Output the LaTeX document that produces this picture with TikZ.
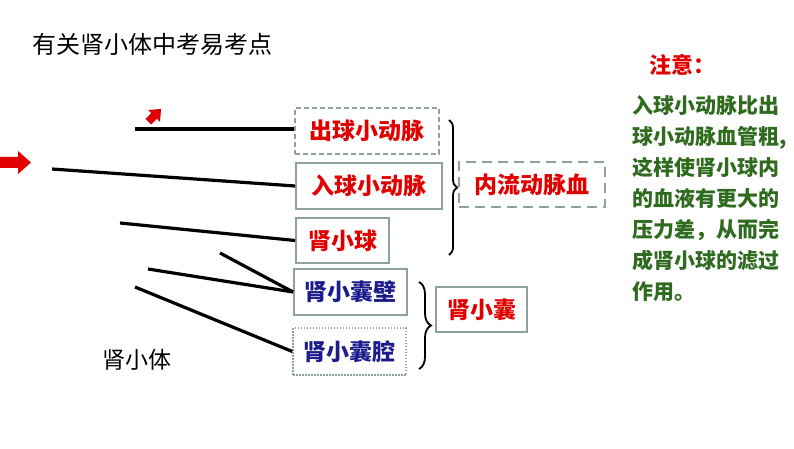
\documentclass[tikz,border=0pt]{standalone}
\usepackage{fontspec}
\newfontfamily\cjk{Noto Sans CJK SC}
\usetikzlibrary{decorations.pathreplacing}
\definecolor{boxgray}{HTML}{8FA0A0}
\definecolor{myred}{HTML}{E00000}
\definecolor{myblue}{HTML}{1C1C8C}
\definecolor{mygreen}{HTML}{2F6B1F}
\tikzset{
  box/.style={draw=boxgray, line width=1.8pt, inner sep=0pt, font=\cjk\bfseries\fontsize{23}{23}\selectfont},
  redtxt/.style={text=myred},
  bluetxt/.style={text=myblue},
  conn/.style={line width=3.2pt, black},
  bracestyle/.style={decorate, line width=1.8pt, black},
  redarrow/.style={fill=myred, draw=none},
}
\begin{document}
\begin{tikzpicture}[x=1pt,y=-1pt]
\useasboundingbox (0,0) rectangle (794,449);
% title
\node[anchor=west, inner sep=0pt, font=\cjk\fontsize{24}{24}\selectfont] (title) at (32,44) {有关肾小体中考易考点};
% boxes
\node[box, redtxt, dash pattern=on 5pt off 3pt, minimum width=144pt, minimum height=46pt] (b1) at (367,131) {出球小动脉};
\node[box, redtxt, minimum width=146pt, minimum height=46pt] (b2) at (369,186) {入球小动脉};
\node[box, redtxt, minimum width=93pt, minimum height=45pt] (b3) at (342.5,240.5) {肾小球};
\node[box, bluetxt, minimum width=113pt, minimum height=46pt] (b4) at (350.5,292) {肾小囊壁};
\node[box, bluetxt, dash pattern=on 1.5pt off 1.5pt, line width=1.4pt, minimum width=113pt, minimum height=47pt] (b5) at (349.5,351.5) {肾小囊腔};
\node[box, redtxt, dash pattern=on 10pt off 6pt, minimum width=146pt, minimum height=45pt] (b6) at (532,184.5) {内流动脉血};
\node[box, redtxt, minimum width=91pt, minimum height=45pt] (b7) at (481.5,309.5) {肾小囊};
% braces
\draw[bracestyle, decoration={brace, amplitude=8pt}] (449,120) -- (449,255);
\draw[bracestyle, decoration={brace, amplitude=12pt}] (419,282) -- (419,369);
% connector free ends
\coordinate (c1) at (135,129);
\coordinate (c2) at (52,169);
\coordinate (c3) at (120,223);
\coordinate (c4) at (220,253);
\coordinate (c5) at (148,269);
\coordinate (c6) at (135,287);
\draw[conn] (c1) -- (c1 -| b1.west);
\draw[conn] (c2) -- (b2.west);
\draw[conn] (c3) -- (b3.west);
\draw[conn] (c4) -- (b4.west);
\draw[conn] (c5) -- (b4.west);
\draw[conn] (c6) -- (b5.west);
% red arrows
\fill[redarrow] (0,157) -- (18,157) -- (18,151) -- (31,162.5) -- (18,174) -- (18,168) -- (0,168) -- cycle;
\begin{scope}[shift={(154,116)}, rotate=45]
\fill[redarrow] (-8,-4) -- (0,-4) -- (0,-8.5) -- (10,0) -- (0,8.5) -- (0,4) -- (-8,4) -- cycle;
\end{scope}
% labels
\node[anchor=west, inner sep=0pt, font=\cjk\fontsize{23}{23}\selectfont] (xt) at (102,360) {肾小体};
\node[anchor=west, inner sep=0pt, text=myred, font=\cjk\bfseries\fontsize{22}{22}\selectfont] (note) at (649,65) {注意：};
\node[anchor=north west, inner sep=0pt, align=left, text=mygreen, font=\cjk\bfseries\fontsize{21}{31}\selectfont] (notetext) at (632,95)
{入球小动脉比出\\球小动脉血管粗,\\这样使肾小球内\\的血液有更大的\\压力差，从而完\\成肾小球的滤过\\作用。};
\end{tikzpicture}
\end{document}
